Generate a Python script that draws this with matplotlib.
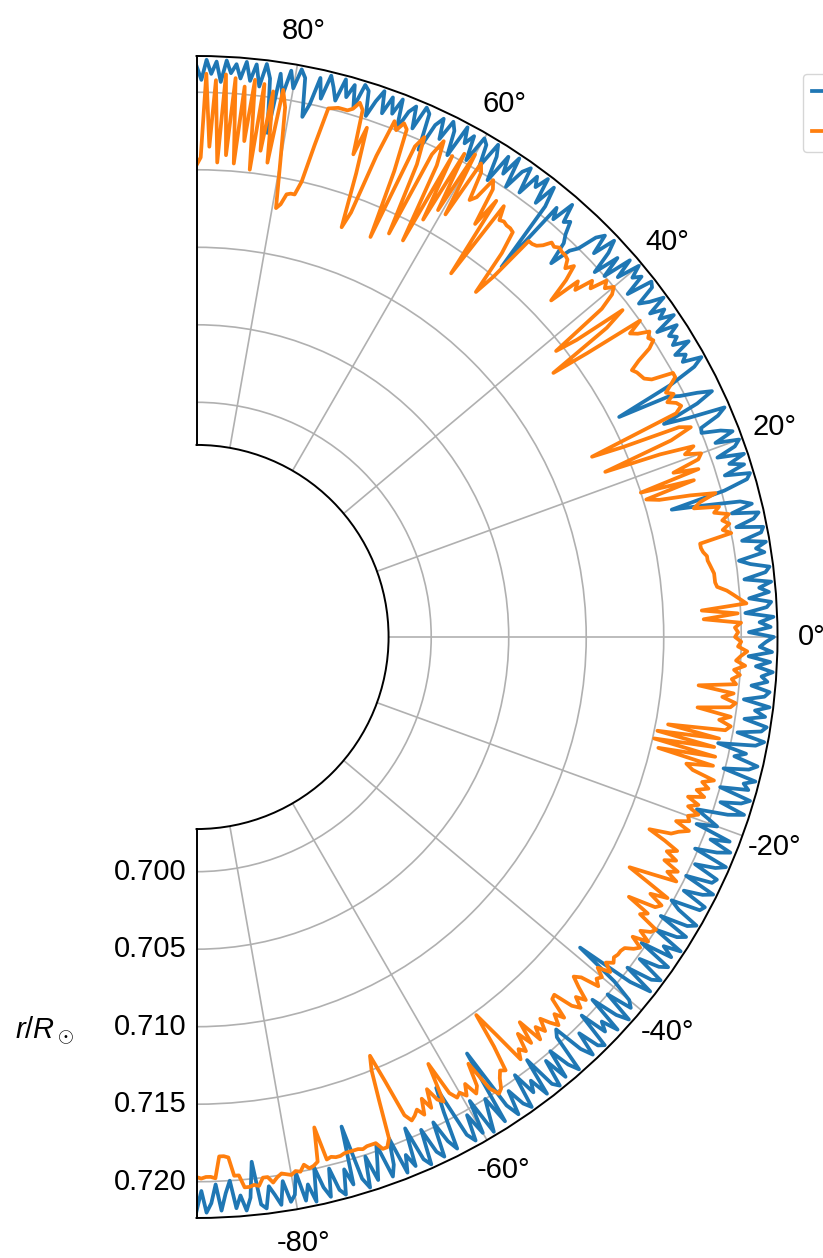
import numpy as np
import matplotlib
matplotlib.use('Agg')
import matplotlib.pyplot as plt

plt.rcParams['font.family'] = ['Liberation Sans', 'DejaVu Sans']
plt.rcParams['axes.unicode_minus'] = False
plt.rcParams['mathtext.fontset'] = 'custom'
plt.rcParams['mathtext.rm'] = 'Liberation Sans'
plt.rcParams['mathtext.it'] = 'Liberation Sans:italic'

# latitude grid (degrees), one value every half degree from -90 to 90
latitude = np.arange(-90, 90.5, 0.5)

# radius of the interface, blue series
r_blue = [
    0.7219, 0.7206, 0.7220, 0.7214, 0.7202, 0.7219, 0.7208, 0.7200, 0.7218, 0.7210,
    0.7220, 0.7212, 0.7189, 0.7217, 0.7220, 0.7206, 0.7212, 0.7219, 0.7204, 0.7218,
    0.7214, 0.7200, 0.7219, 0.7209, 0.7221, 0.7199, 0.7213, 0.7220, 0.7202, 0.7217,
    0.7221, 0.7205, 0.7216, 0.7178, 0.7214, 0.7221, 0.7201, 0.7218, 0.7207, 0.7196,
    0.7219, 0.7212, 0.7195, 0.7220, 0.7209, 0.7218, 0.7193, 0.7216, 0.7221, 0.7198,
    0.7215, 0.7220, 0.7197, 0.7212, 0.7219, 0.7194, 0.7178, 0.7214, 0.7220, 0.7203,
    0.7218, 0.7196, 0.7221, 0.7210, 0.7200, 0.7219, 0.7169, 0.7211, 0.7220, 0.7204,
    0.7216, 0.7221, 0.7198, 0.7214, 0.7207, 0.7220, 0.7195, 0.7217, 0.7221, 0.7203,
    0.7219, 0.7200, 0.7214, 0.7221, 0.7196, 0.7192, 0.7212, 0.7220, 0.7204, 0.7218,
    0.7221, 0.7197, 0.7215, 0.7209, 0.7220, 0.7195, 0.7213, 0.7221, 0.7200, 0.7217,
    0.7213, 0.7198, 0.7167, 0.7206, 0.7220, 0.7199, 0.7216, 0.7221, 0.7202, 0.7215,
    0.7220, 0.7197, 0.7218, 0.7210, 0.7221, 0.7200, 0.7214, 0.7219, 0.7198, 0.7216,
    0.7221, 0.7206, 0.7199, 0.7218, 0.7220, 0.7203, 0.7215, 0.7221, 0.7200, 0.7217,
    0.7219, 0.7202, 0.7215, 0.7221, 0.7198, 0.7212, 0.7220, 0.7205, 0.7217, 0.7193,
    0.7206, 0.7198, 0.7190, 0.7210, 0.7220, 0.7203, 0.7216, 0.7221, 0.7200, 0.7218,
    0.7214, 0.7221, 0.7199, 0.7215, 0.7220, 0.7204, 0.7211, 0.7192, 0.7216, 0.7221,
    0.7203, 0.7218, 0.7221, 0.7206, 0.7219, 0.7212, 0.7221, 0.7204, 0.7217, 0.7220,
    0.7208, 0.7218, 0.7214, 0.7221, 0.7210, 0.7219, 0.7205, 0.7220, 0.7212, 0.7216,
    0.7221, 0.7205, 0.7219, 0.7212, 0.7221, 0.7203, 0.7217, 0.7220, 0.7206, 0.7219,
    0.7213, 0.7221, 0.7204, 0.7218, 0.7221, 0.7209, 0.7202, 0.7219, 0.7214, 0.7221,
    0.7206, 0.7219, 0.7221, 0.7204, 0.7216, 0.7220, 0.7203, 0.7217, 0.7210, 0.7188,
    0.7166, 0.7202, 0.7218, 0.7221, 0.7205, 0.7219, 0.7210, 0.7221, 0.7204, 0.7217,
    0.7221, 0.7206, 0.7219, 0.7212, 0.7200, 0.7201, 0.7214, 0.7220, 0.7196, 0.7180,
    0.7205, 0.7217, 0.7208, 0.7197, 0.7190, 0.7156, 0.7195, 0.7214, 0.7221, 0.7209,
    0.7213, 0.7207, 0.7219, 0.7209, 0.7214, 0.7210, 0.7218, 0.7205, 0.7220, 0.7211,
    0.7217, 0.7208, 0.7221, 0.7212, 0.7206, 0.7219, 0.7221, 0.7204, 0.7218, 0.7213,
    0.7221, 0.7206, 0.7219, 0.7200, 0.7214, 0.7197, 0.7212, 0.7220, 0.7205, 0.7218,
    0.7213, 0.7200, 0.7195, 0.7181, 0.7196, 0.7201, 0.7209, 0.7206, 0.7218, 0.7203,
    0.7210, 0.7158, 0.7206, 0.7219, 0.7204, 0.7221, 0.7212, 0.7218, 0.7203, 0.7220,
    0.7215, 0.7201, 0.7221, 0.7207, 0.7218, 0.7198, 0.7214, 0.7221, 0.7203, 0.7217,
    0.7220, 0.7202, 0.7218, 0.7211, 0.7221, 0.7199, 0.7215, 0.7220, 0.7206, 0.7219,
    0.7213, 0.7194, 0.7218, 0.7221, 0.7205, 0.7219, 0.7214, 0.7201, 0.7220, 0.7209,
    0.7219, 0.7207, 0.7221, 0.7213, 0.7202, 0.7218, 0.7221, 0.7205, 0.7219, 0.7210,
    0.7221, 0.7206, 0.7214, 0.7221, 0.7205, 0.7218, 0.7200, 0.7191, 0.7216, 0.7221,
    0.7208, 0.7219, 0.7202, 0.7216, 0.7177, 0.7212, 0.7221, 0.7206, 0.7220, 0.7209,
    0.7221, 0.7210, 0.7219, 0.7213, 0.7221, 0.7207, 0.7220, 0.7212, 0.7221, 0.7208,
    0.7217,
]

# radius of the interface, orange series
r_orange = [
    0.7197, 0.7198, 0.7197, 0.7197, 0.7198, 0.7184, 0.7184, 0.7185, 0.7197, 0.7197,
    0.7205, 0.7205, 0.7204, 0.7205, 0.7200, 0.7200, 0.7204, 0.7201, 0.7199, 0.7200,
    0.7201, 0.7199, 0.7200, 0.7196, 0.7199, 0.7198, 0.7196, 0.7174, 0.7196, 0.7195,
    0.7196, 0.7196, 0.7195, 0.7195, 0.7195, 0.7195, 0.7196, 0.7195, 0.7195, 0.7195,
    0.7200, 0.7200, 0.7195, 0.7170, 0.7150, 0.7141, 0.7160, 0.7185, 0.7190, 0.7188,
    0.7185, 0.7190, 0.7180, 0.7188, 0.7176, 0.7185, 0.7188, 0.7162, 0.7185, 0.7190,
    0.7188, 0.7192, 0.7185, 0.7194, 0.7190, 0.7175, 0.7196, 0.7202, 0.7200, 0.7194,
    0.7190, 0.7192, 0.7175, 0.7152, 0.7170, 0.7192, 0.7186, 0.7190, 0.7178, 0.7188,
    0.7173, 0.7190, 0.7182, 0.7188, 0.7180, 0.7186, 0.7191, 0.7184, 0.7190, 0.7176,
    0.7175, 0.7188, 0.7193, 0.7186, 0.7192, 0.7183, 0.7176, 0.7180, 0.7192, 0.7188,
    0.7190, 0.7184, 0.7192, 0.7186, 0.7190, 0.7188, 0.7189, 0.7189, 0.7190, 0.7195,
    0.7198, 0.7190, 0.7200, 0.7192, 0.7198, 0.7200, 0.7186, 0.7190, 0.7174, 0.7192,
    0.7195, 0.7185, 0.7196, 0.7180, 0.7165, 0.7180, 0.7196, 0.7188, 0.7194, 0.7183,
    0.7190, 0.7182, 0.7188, 0.7178, 0.7166, 0.7180, 0.7184, 0.7190, 0.7180, 0.7188,
    0.7186, 0.7192, 0.7184, 0.7190, 0.7182, 0.7192, 0.7186, 0.7193, 0.7188, 0.7195,
    0.7180, 0.7175, 0.7192, 0.7155, 0.7192, 0.7151, 0.7190, 0.7152, 0.7192, 0.7158,
    0.7195, 0.7198, 0.7190, 0.7197, 0.7175, 0.7196, 0.7199, 0.7190, 0.7197, 0.7174,
    0.7198, 0.7195, 0.7200, 0.7196, 0.7203, 0.7197, 0.7200, 0.7204, 0.7198, 0.7200,
    0.7196, 0.7198, 0.7196, 0.7200, 0.7176, 0.7198, 0.7175, 0.7204, 0.7200, 0.7196,
    0.7192, 0.7186, 0.7185, 0.7185, 0.7185, 0.7184, 0.7183, 0.7182, 0.7182, 0.7180,
    0.7179, 0.7179, 0.7200, 0.7195, 0.7200, 0.7196, 0.7201, 0.7192, 0.7196, 0.7180,
    0.7185, 0.7196, 0.7180, 0.7160, 0.7152, 0.7185, 0.7150, 0.7190, 0.7174, 0.7192,
    0.7195, 0.7185, 0.7192, 0.7170, 0.7133, 0.7180, 0.7195, 0.7188, 0.7150, 0.7129,
    0.7190, 0.7195, 0.7193, 0.7188, 0.7194, 0.7190, 0.7195, 0.7200, 0.7200, 0.7186,
    0.7182, 0.7181, 0.7180, 0.7178, 0.7185, 0.7195, 0.7200, 0.7198, 0.7201, 0.7194,
    0.7190, 0.7200, 0.7160, 0.7135, 0.7180, 0.7195, 0.7160, 0.7145, 0.7185, 0.7196,
    0.7200, 0.7195, 0.7199, 0.7188, 0.7192, 0.7180, 0.7185, 0.7164, 0.7180, 0.7190,
    0.7185, 0.7190, 0.7191, 0.7191, 0.7192, 0.7190, 0.7191, 0.7186, 0.7183, 0.7182,
    0.7182, 0.7150, 0.7135, 0.7165, 0.7180, 0.7181, 0.7181, 0.7182, 0.7181, 0.7190,
    0.7135, 0.7190, 0.7170, 0.7195, 0.7200, 0.7185, 0.7181, 0.7200, 0.7205, 0.7165,
    0.7208, 0.7165, 0.7205, 0.7155, 0.7200, 0.7137, 0.7190, 0.7206, 0.7195, 0.7137,
    0.7185, 0.7203, 0.7195, 0.7130, 0.7175, 0.7203, 0.7206, 0.7200, 0.7205, 0.7180,
    0.7140, 0.7129, 0.7165, 0.7195, 0.7176, 0.7205, 0.7209, 0.7204, 0.7202, 0.7202,
    0.7202, 0.7201, 0.7200, 0.7175, 0.7150, 0.7141, 0.7141, 0.7140, 0.7133, 0.7130,
    0.7160, 0.7195, 0.7206, 0.7158, 0.7204, 0.7165, 0.7208, 0.7152, 0.7210, 0.7170,
    0.7205, 0.7155, 0.7210, 0.7160, 0.7212, 0.7155, 0.7208, 0.7165, 0.7212, 0.7158,
    0.7153,
]

series_labels = ['run A', 'run B']
r_ticks = [0.700, 0.705, 0.710, 0.715, 0.720]
theta_ticks = [-80, -60, -40, -20, 0, 20, 40, 60, 80]


def make_figure():
    fig = plt.figure(figsize=(8.23, 12.58), dpi=100)
    # the half-disc is centred in a square box, so the box is made square
    # and wide enough that the straight edge lands near the left of the figure
    ax = fig.add_axes([-0.1142, 0.0318, 1.4119, 0.9237], projection='polar')
    theta = np.deg2rad(latitude)
    ax.plot(theta, r_blue, color='tab:blue', lw=2.7, label=series_labels[0])
    ax.plot(theta, r_orange, color='tab:orange', lw=2.7, label=series_labels[1])

    ax.set_thetamin(-90)
    ax.set_thetamax(90)
    ax.set_rlim(0.69725, 0.72234)
    ax.set_rorigin(0.68486)
    ax.set_rticks(r_ticks)
    ax.set_yticklabels(['%.3f' % v for v in r_ticks])
    ax.set_thetagrids(theta_ticks)
    ax.tick_params(labelsize=21)
    ax.tick_params(axis='x', pad=14)
    ax.grid(color='#b0b0b0', lw=1.2)
    for sp in ax.spines.values():
        sp.set_linewidth(1.4)

    fig.text(0.0535, 0.181, r'$r/R_\odot$', fontsize=21, ha='center', va='center')
    fig.legend(loc='upper left', bbox_to_anchor=(0.9757, 0.9415), fontsize=16,
               borderaxespad=0, labelspacing=0.85)
    fig.savefig('out.png', dpi=100)


make_figure()
